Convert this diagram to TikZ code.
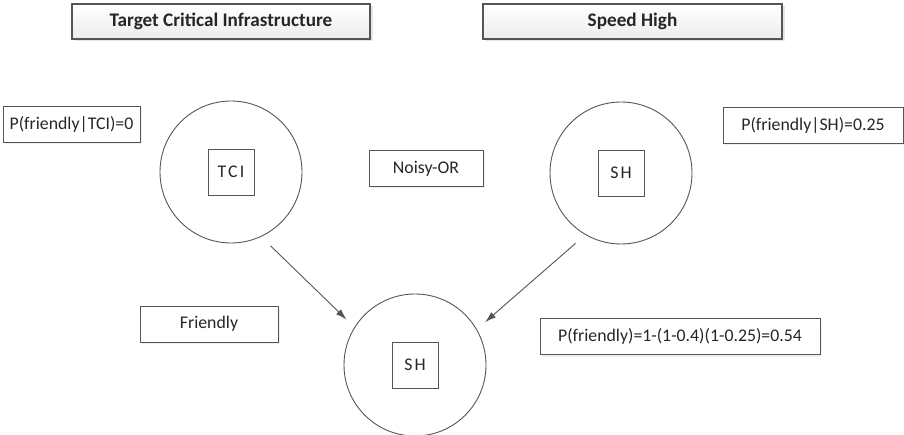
\documentclass[tikz,border=0pt]{standalone}
\usepackage{fontspec}
\setmainfont{Carlito}
\newfontfamily\spacedfont{Carlito}[LetterSpace=12]
\usepackage{tikz}
\usetikzlibrary{arrows.meta, shadows}
\definecolor{lineGray}{RGB}{85, 85, 85}
\definecolor{textDark}{RGB}{38, 38, 38}
\definecolor{titleFill}{RGB}{236, 236, 236}

\begin{document}
\begin{tikzpicture}[x=1pt, y=-1pt,
    font=\fontsize{17.8}{21}\selectfont, text=textDark,
    titlebox/.style={draw=lineGray, line width=1.4pt, top color=white, bottom color=titleFill,
      minimum height=35pt, inner sep=0pt, font=\fontsize{19.2}{22}\selectfont\bfseries,
      drop shadow={opacity=0.2, shadow xshift=2.5pt, shadow yshift=-2.5pt}},
    labelbox/.style={draw=lineGray, line width=0.9pt, fill=white, minimum height=36pt, inner sep=0pt,
      drop shadow={opacity=0.12, shadow xshift=2pt, shadow yshift=-2pt}},
    varnode/.style={circle, draw=lineGray, line width=0.9pt, minimum size=142pt, inner sep=0pt},
    statebox/.style={draw=lineGray, line width=0.9pt, minimum size=46pt, inner sep=0pt,
      font=\fontsize{17.8}{21}\spacedfont},
    link/.style={draw=lineGray, line width=0.9pt, -{Latex[length=11pt, width=7pt]},
      shorten <=13pt, shorten >=11pt}]
      \useasboundingbox (0,0) rectangle (904,435);

      % Titles
      \node[titlebox, minimum width=298pt] (tciTitle) at (221,21.5) {Target Critical Infrastructure};
      \node[titlebox, minimum width=299pt] (shTitle) at (632.5,21.5) {Speed High};

      % Parent variables
      \node[varnode] (tci) at (231,172) {};
      \node[statebox] (tciState) at (tci.center) {TCI};
      \node[varnode] (sh) at (621,173) {};
      \node[statebox] (shState) at (sh.center) {SH};

      % Child variable
      \node[varnode] (out) at (415,365) {};
      \node[statebox] (outState) at (out.center) {SH};

      % Probability labels
      \node[labelbox, minimum width=137pt] (pTci) at (71.5,124.5) {P(friendly|TCI)=0};
      \node[labelbox, minimum width=114pt] (noisyOr) at (426,168.5) {Noisy-OR};
      \node[labelbox, minimum width=180pt] (pSh) at (813,125) {P(friendly|SH)=0.25};
      \node[labelbox, minimum width=138pt] (friendly) at (209,324) {Friendly};
      \node[labelbox, minimum width=280pt] (pOut) at (680,336.5) {P(friendly)=1-(1-0.4)(1-0.25)=0.54};

      % Links
      \draw[link] (tci.-65) -- (out.148);
      \draw[link] (sh.-120) -- (out.30);
    \end{tikzpicture}
\end{document}
